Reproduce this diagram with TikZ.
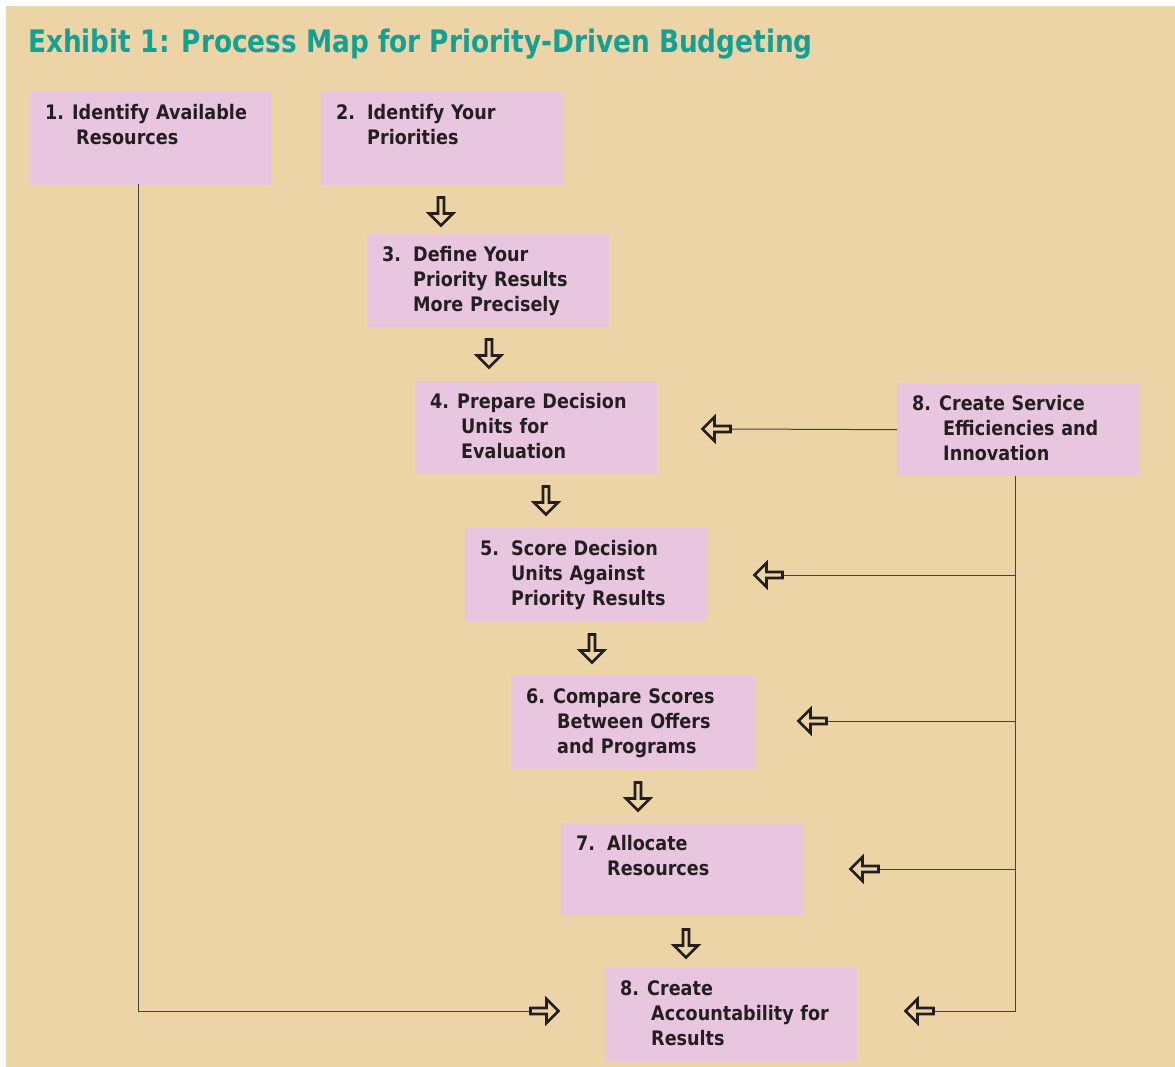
\documentclass[tikz,border=0pt]{standalone}
\usepackage{xcolor}
\usepackage{fontspec}
\usepackage{tikz}
\usetikzlibrary{shapes.arrows}
\setmainfont{DejaVu Sans}[FakeStretch=0.88]
\newfontfamily\titlefont{DejaVu Sans}[FakeStretch=0.85]
\definecolor{fondo}{HTML}{ECD4A6}
\definecolor{rosa}{HTML}{E9C6DF}
\definecolor{titulo}{HTML}{16A094}
\definecolor{tinta}{HTML}{231F20}
\newcommand{\paso}[3][31pt]{\hangindent=31pt\hangafter=1\makebox[#1][l]{#2}#3\par}

\begin{document}
\begin{tikzpicture}[x=1pt, y=-1pt,
    stepbox/.style={fill=rosa, anchor=north west, text=tinta, align=left,
        text width=212pt, inner xsep=15pt, inner ysep=12pt,
        text height=15pt, text depth=54pt,
        font=\fontsize{20pt}{25pt}\selectfont\bfseries},
    flecha/.style={single arrow, draw=tinta, line width=2.6pt, fill=fondo,
        inner sep=0pt, minimum height=28pt, minimum width=24pt,
        single arrow head extend=5.5pt, shape border uses incircle},
    linea/.style={draw=tinta!85, line width=1pt}]
    % Fondo
    \useasboundingbox (0,0) rectangle (1175,1067);
    \fill[white] (0,0) rectangle (1175,1067);
    \fill[fondo] (6,6) rectangle (1175,1067);
    % Titulo
    \node[anchor=base west, inner sep=0pt, text=titulo,
        font=\titlefont\fontsize{31pt}{31pt}\selectfont\bfseries] (T) at (28,53)
        {Exhibit 1: Process Map for Priority-Driven Budgeting};
    % Cajas de los pasos
    \node[stepbox, text width=211pt] (s1) at (30,92)
        {\paso[27pt]{1.}{Identify Available\newline Resources}};
    \node[stepbox] (s2) at (321,92) {\paso{2.}{Identify Your\newline Priorities}};
    \node[stepbox] (s3) at (367,234)
        {\paso{3.}{Define Your\newline Priority Results\newline More Precisely}};
    \node[stepbox] (s4) at (415,381)
        {\paso[27pt]{4.}{Prepare Decision\newline Units for\newline Evaluation}};
    \node[stepbox] (s5) at (465,528)
        {\paso{5.}{Score Decision\newline Units Against\newline Priority Results}};
    \node[stepbox, text width=214pt] (s6) at (511,676)
        {\paso[27pt]{6.}{Compare Scores\newline Between Offers\newline and Programs}};
    \node[stepbox] (s7) at (561,823) {\paso{7.}{Allocate\newline Resources}};
    \node[stepbox, text width=222pt] (s8) at (605,968)
        {\paso[27pt]{8.}{Create\newline Accountability for\newline Results}};
    \node[stepbox] (s8e) at (897,383)
        {\paso[27pt]{8.}{Create Service\newline Efficiencies and\newline Innovation}};
    % Flechas hacia abajo
    \node[flecha, rotate=-90] (d1) at (441,210) {};
    \node[flecha, rotate=-90] (d2) at (489,352) {};
    \node[flecha, rotate=-90] (d3) at (546,499) {};
    \node[flecha, rotate=-90] (d4) at (592,647) {};
    \node[flecha, rotate=-90] (d5) at (638,795) {};
    \node[flecha, rotate=-90] (d6) at (686,942) {};
    % Flechas laterales
    \node[flecha, rotate=180] (l4) at (718,429) {};
    \node[flecha, rotate=180] (l5) at (770,575) {};
    \node[flecha, rotate=180] (l6) at (814,721) {};
    \node[flecha, rotate=180] (l7) at (866,869) {};
    \node[flecha, rotate=180] (l8) at (921,1011) {};
    \node[flecha] (r8) at (543,1011) {};
    % Lineas de conexion
    \coordinate (bajada) at (1015,476);
    \coordinate (izq) at (138,184);
    \draw[linea] (s8e.west) -- (l4.tail);
    \draw[linea] (bajada) |- (l8.tail);
    \draw[linea] (l5.tail) -- (l5.tail -| bajada);
    \draw[linea] (l6.tail) -- (l6.tail -| bajada);
    \draw[linea] (l7.tail) -- (l7.tail -| bajada);
    \draw[linea] (izq) |- (r8.tail);
\end{tikzpicture}
\end{document}
